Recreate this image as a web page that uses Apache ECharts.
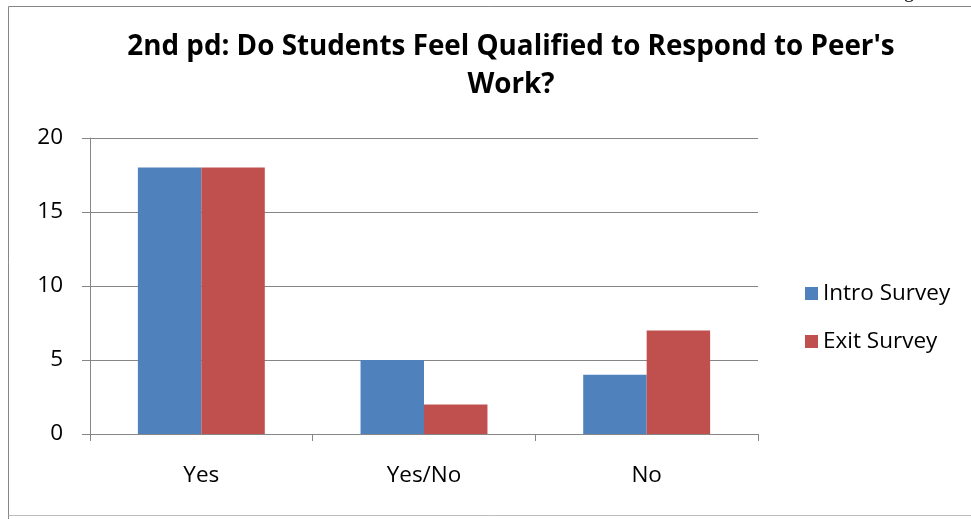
<!DOCTYPE html>
<html><head><meta charset="utf-8">
<script src="https://cdn.jsdelivr.net/npm/echarts@6/dist/echarts.min.js"></script>
<style>html,body{margin:0;padding:0;background:#fff}#c{width:971px;height:519px}</style>
</head><body><div id="c"></div>
<script>
const categories = ['Yes', 'Yes/No', 'No'];
const introSurvey = [18, 5, 4];
const exitSurvey = [18, 2, 7];
const yTicks = [0, 5, 10, 15, 20];
const titleText = "2nd pd: Do Students Feel Qualified to Respond to Peer's\nWork?";

const chart = echarts.init(document.getElementById('c'));
const F = 'Open Sans';
const FS = 22.5;
chart.setOption({
  animation: false,
  backgroundColor: '#fff',
  title: {
    text: titleText, top: 23, textAlign: 'center',
    left: 506,
    textStyle: { fontFamily: F, fontWeight: 'bold', fontSize: 27.8, color: '#000', lineHeight: 38 }
  },
  legend: {
    orient: 'vertical', left: 800, top: 277, itemWidth: 13, itemHeight: 13, itemGap: 25,
    icon: 'rect',
    textStyle: { fontFamily: F, fontSize: FS, color: '#000', padding: [0, 0, 0, 0] },
    data: ['Intro Survey', 'Exit Survey']
  },
  grid: { left: 90, right: 213, top: 138, bottom: 85 },
  xAxis: {
    type: 'category', data: categories,
    axisLine: { lineStyle: { color: '#868686', width: 1 } },
    axisTick: { show: true, length: 7, lineStyle: { color: '#868686' } },
    axisLabel: { fontFamily: F, fontSize: FS, color: '#000', margin: 30 }
  },
  yAxis: {
    type: 'value', min: 0, max: 20, interval: 5,
    axisLine: { show: true, lineStyle: { color: '#868686', width: 1 } },
    axisTick: { show: true, length: 8, lineStyle: { color: '#868686' } },
    splitLine: { lineStyle: { color: '#868686', width: 1 } },
    axisLabel: { fontFamily: F, fontSize: FS, color: '#000', margin: 27,
      formatter: v => yTicks.includes(v) ? String(v) : '' }
  },
  series: [
    { name: 'Intro Survey', type: 'bar', data: introSurvey, barGap: '0%', barCategoryGap: '43%',
      itemStyle: { color: '#4F81BD' } },
    { name: 'Exit Survey', type: 'bar', data: exitSurvey, barGap: '0%', barCategoryGap: '43%',
      itemStyle: { color: '#C0504D' } }
  ],
  graphic: [
    { type: 'polyline', shape: { points: [[8.5, 519], [8.5, 6.5], [971, 6.5]] },
      style: { stroke: '#868686', lineWidth: 1, fill: null }, silent: true },
    { type: 'line', shape: { x1: 8.5, y1: 515.5, x2: 971, y2: 515.5 },
      style: { stroke: '#bdbdbd', lineWidth: 1 }, silent: true },
    { type: 'text', left: 904, top: -18, style: { text: 'g', fontFamily: 'Liberation Serif', fontSize: 20, fill: '#000' } }
  ]
});
</script></body></html>
